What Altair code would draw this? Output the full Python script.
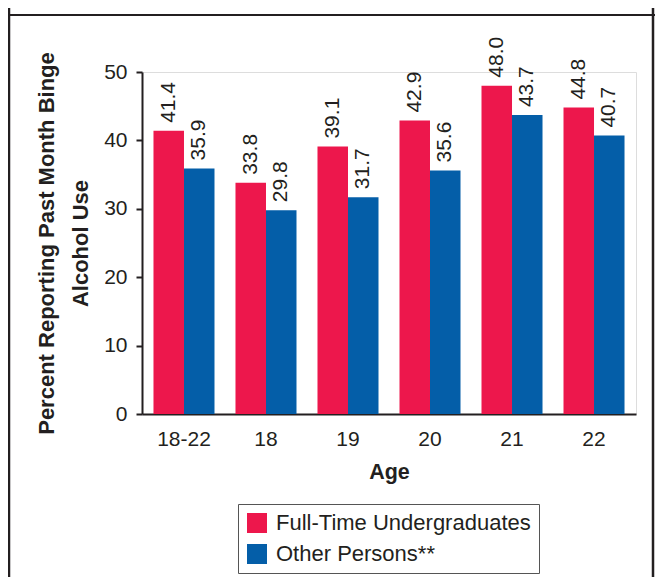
import altair as alt
import pandas as pd

ages = ["18-22", "18", "19", "20", "21", "22"]
groups = ["Full-Time Undergraduates", "Other Persons**"]
fulltime = [41.4, 33.8, 39.1, 42.9, 48.0, 44.8]
other = [35.9, 29.8, 31.7, 35.6, 43.7, 40.7]
y_ticks = [0, 10, 20, 30, 40, 50]
colors = ["#ED174C", "#045EA8"]

rows = []
for a, f, o in zip(ages, fulltime, other):
    rows.append({"age": a, "group": groups[0], "value": f, "label": f"{f:.1f}"})
    rows.append({"age": a, "group": groups[1], "value": o, "label": f"{o:.1f}"})
df = pd.DataFrame(rows)

FONT = "Liberation Sans"
INK = "#231F20"

x_enc = alt.X(
    "age:N", sort=ages,
    scale=alt.Scale(paddingInner=0.256, paddingOuter=0.14),
    axis=alt.Axis(
        title="Age", titleFontSize=21.5, titleFontWeight="bold", titleColor=INK,
        titleX=247, titleY=64, titleBaseline="alphabetic",
        labelAngle=0, labelFontSize=21, labelColor=INK, labelBaseline="alphabetic",
        labelPadding=31, ticks=False, tickSize=0,
        domainColor=INK, domainWidth=2, labelFont=FONT, titleFont=FONT,
    ),
)
xo_enc = alt.XOffset("group:N", sort=groups, scale=alt.Scale(paddingInner=0, paddingOuter=0))

y_enc = alt.Y(
    "value:Q",
    scale=alt.Scale(domain=[0, 50], nice=False),
    axis=alt.Axis(
        values=y_ticks, grid=False, tickSize=6, tickWidth=2, tickColor=INK,
        domainColor=INK, domainWidth=2, labelPadding=9, labelFontSize=21,
        labelColor=INK, labelFont=FONT,
        title=["Percent Reporting Past Month Binge", "Alcohol Use"],
        titleFont=FONT, titleFontSize=22, titleFontWeight="bold", titleColor=INK,
        titleAngle=270, titleBaseline="alphabetic", titleAlign="center",
        titleLineHeight=34, titleX=-89, titleY=171,
    ),
)

base = alt.Chart(df)

bars = base.mark_bar().encode(
    x=x_enc,
    xOffset=xo_enc,
    y=y_enc,
    color=alt.Color(
        "group:N", sort=groups,
        scale=alt.Scale(domain=groups, range=colors),
        legend=alt.Legend(
            title=None, orient="none", legendX=96, legendY=432,
            strokeColor="#555555", padding=8, rowPadding=9,
            symbolType="square", symbolSize=400, symbolStrokeWidth=0,
            symbolOpacity=1, labelFontSize=22, labelFont=FONT, labelColor=INK,
            labelOffset=8, labelLimit=400,
        ),
    ),
)

labels = base.mark_text(
    angle=270, align="left", baseline="middle", dx=8,
    fontSize=21, font=FONT, color=INK,
).encode(
    x=alt.X("age:N", sort=ages),
    xOffset=alt.XOffset("group:N", sort=groups),
    y=alt.Y("value:Q"),
    text="label:N",
)

one = alt.Data(values=[{"k": 1}])
frame_left = alt.Chart(one).mark_rule(color=INK, strokeWidth=2.5).encode(
    x=alt.value(-133), y=alt.value(-64), y2=alt.value(505))
frame_right = alt.Chart(one).mark_rule(color=INK, strokeWidth=2.5).encode(
    x=alt.value(511), y=alt.value(-64), y2=alt.value(505))
frame_top = alt.Chart(one).mark_rule(color=INK, strokeWidth=2).encode(
    x=alt.value(-134), x2=alt.value(513), y=alt.value(-57))

chart = alt.layer(bars, labels, frame_left, frame_right, frame_top).properties(
    width=494, height=342,
    autosize=alt.AutoSizeParams(type="none"),
    padding={"left": 134, "top": 64, "right": 19, "bottom": 163},
).configure_view(stroke=None).configure(background="white")

chart.save("out.html", embed_options={"renderer": "svg", "actions": False})
